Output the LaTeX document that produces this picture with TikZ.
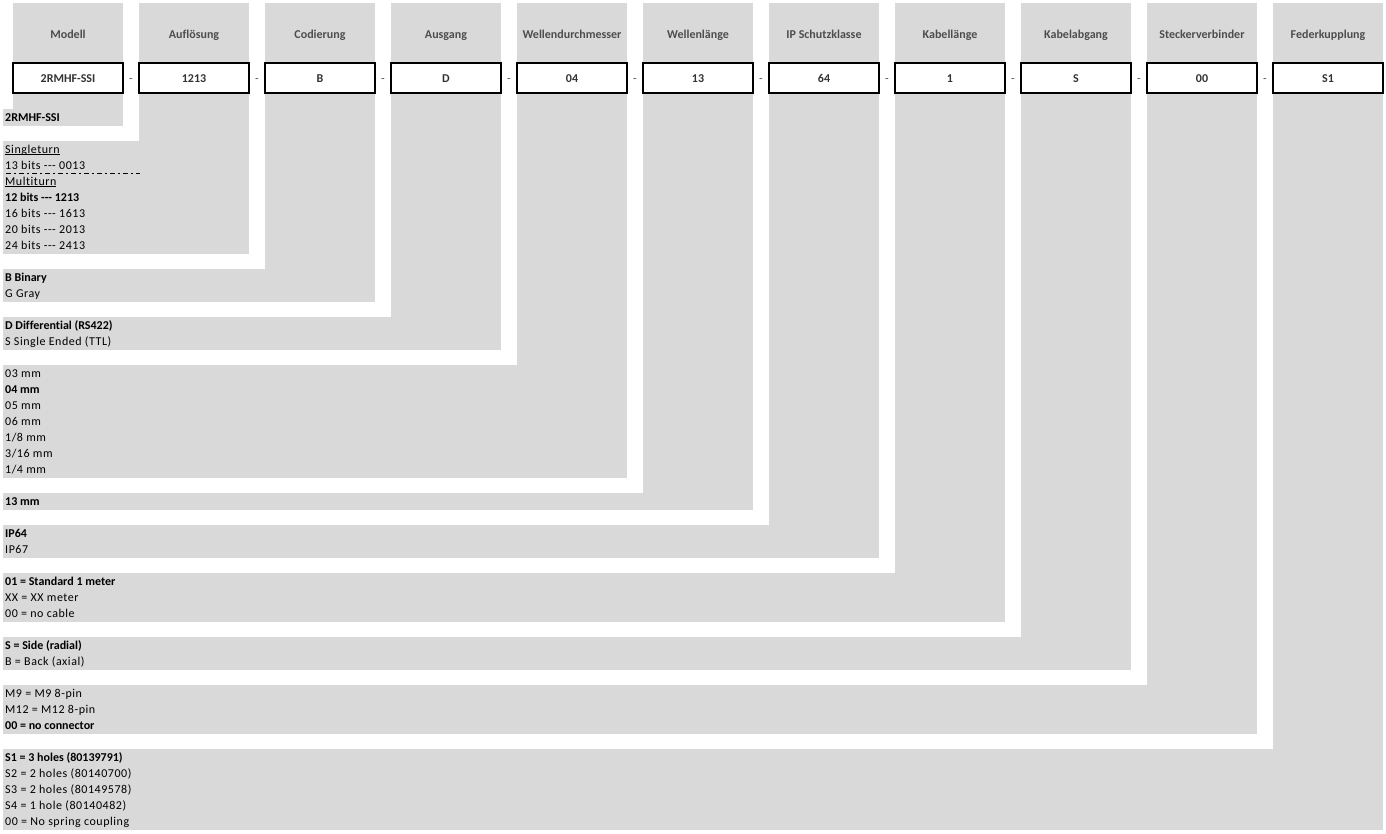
\documentclass[tikz,border=0pt]{standalone}
\usepackage{fontspec}
\setmainfont{Carlito}[Ligatures={TeXOff,CommonOff},
  UprightFeatures={LetterSpace=4.5}]
\definecolor{cellgray}{HTML}{D9D9D9}
\definecolor{headtext}{HTML}{4D4D4D}
\definecolor{codetext}{HTML}{333333}
\newcommand\cellfont{\fontsize{12}{16}\selectfont}
\newcommand\ulword[1]{\setbox0\hbox{#1}\rlap{\rule[-1.8pt]{\wd0}{0.8pt}}\box0}

\begin{document}
\begin{tikzpicture}[x=1pt, y=-1pt,
  every node/.style={font=\cellfont, inner sep=0pt},
  head/.style={font=\cellfont\bfseries, text=headtext, anchor=base},
  codebox/.style={draw=black, line width=1.3pt, fill=white, minimum width=110pt,
                  minimum height=30pt, text height=8pt, text depth=0pt,
                  font=\cellfont\bfseries, text=codetext},
  sep/.style={text=headtext, anchor=base},
  opts/.style={anchor=base west, align=left}]
  \useasboundingbox (0,0) rectangle (1386,833);
  % columns: gray strip, its band, header and code box
  \foreach \i/\name/\val/\top/\bot in {1/Modell/2RMHF-SSI/109/126,
      2/Auflösung/1213/141/254, 3/Codierung/B/269/302, 4/Ausgang/D/317/350,
      5/Wellendurchmesser/04/365/478, 6/Wellenlänge/13/493/510,
      7/IP Schutzklasse/64/525/558, 8/Kabellänge/1/573/622,
      9/Kabelabgang/S/637/670, 10/Steckerverbinder/00/685/734,
      11/Federkupplung/S1/749/830} {
    \pgfmathsetmacro\l{13+126*(\i-1)}
    \pgfmathsetmacro\r{\l+110}
    \pgfmathsetmacro\c{\l+55}
    \fill[cellgray] (\l,3) rectangle (\r,\bot);
    \fill[cellgray] (3,\top) rectangle (\r,\bot);
    \node[head] (h\i) at (\c,38) {\name};
    \node[codebox] (v\i) at (\c,78) {\val};
  }
  \foreach \i in {2,...,11} {
    \pgfmathsetmacro\d{13+126*(\i-1)-8}
    \node[sep] (d\i) at (\d,82) {-};
  }

  % option lists, placed by the baseline of their last line
  \node[opts] (b1) at (5,121) {\textbf{2RMHF-SSI}};
  \node[opts] (b2) at (5,249) {\ulword{Singleturn}\\13 bits --- 0013\\\ulword{Multiturn}\\
    \textbf{12 bits --- 1213}\\16 bits --- 1613\\20 bits --- 2013\\24 bits --- 2413};
  \coordinate (dl) at (6,173.5);
  \coordinate (dr) at (140,173.5);
  \draw[line width=1pt, dash pattern=on 5pt off 3pt on 2pt off 3pt] (dl) -- (dr);
  \node[opts] (b3) at (5,297) {\textbf{B Binary}\\G Gray};
  \node[opts] (b4) at (5,345) {\textbf{D Differential (RS422)}\\S Single Ended (TTL)};
  \node[opts] (b5) at (5,473) {03 mm\\\textbf{04 mm}\\05 mm\\06 mm\\1/8 mm\\3/16 mm\\1/4 mm};
  \node[opts] (b6) at (5,505) {\textbf{13 mm}};
  \node[opts] (b7) at (5,553) {\textbf{IP64}\\IP67};
  \node[opts] (b8) at (5,617) {\textbf{01 = Standard 1 meter}\\XX = XX meter\\00 = no cable};
  \node[opts] (b9) at (5,665) {\textbf{S = Side (radial)}\\B = Back (axial)};
  \node[opts] (b10) at (5,729) {M9 = M9 8-pin\\M12 = M12 8-pin\\\textbf{00 = no connector}};
  \node[opts] (b11) at (5,825) {\textbf{S1 = 3 holes (80139791)}\\S2 = 2 holes (80140700)\\
    S3 = 2 holes (80149578)\\S4 = 1 hole (80140482)\\00 = No spring coupling};
\end{tikzpicture}
\end{document}
